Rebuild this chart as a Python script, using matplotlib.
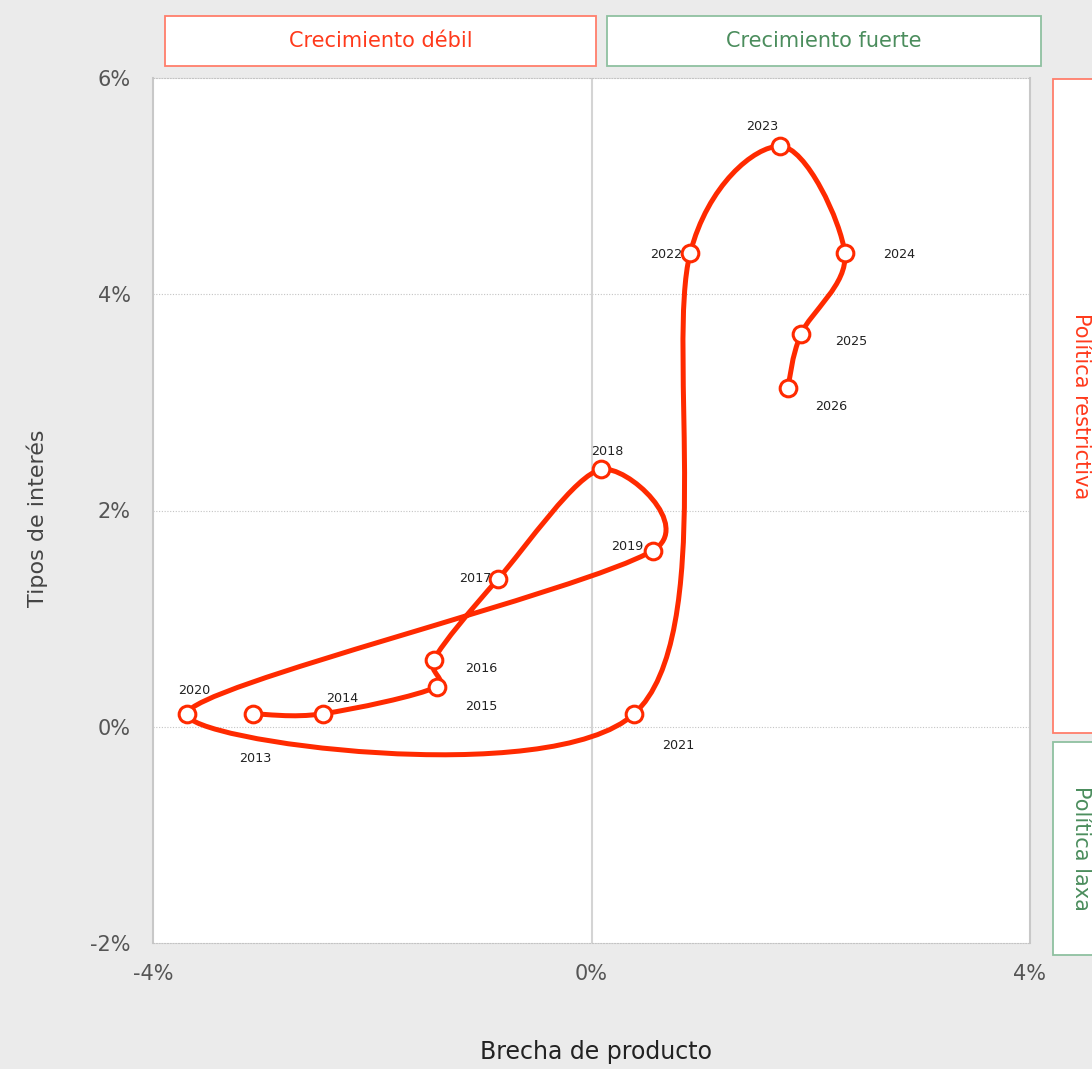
import numpy as np
import matplotlib.pyplot as plt
from matplotlib.path import Path
from matplotlib.patches import PathPatch, Rectangle

# data -------------------------
years = [2013, 2014, 2015, 2016, 2017, 2018, 2019, 2020, 2021, 2022, 2023, 2024, 2025, 2026]
brecha = [-3.09, -2.45, -1.41, -1.44, -0.85, 0.09, 0.56, -3.69, 0.39, 0.90, 1.72, 2.31, 1.91, 1.79]  # [%]
tipos = [0.12, 0.12, 0.37, 0.62, 1.37, 2.38, 1.63, 0.12, 0.12, 4.38, 5.37, 4.38, 3.63, 3.13]      # [%]
xticks = [-4, 0, 4]
yticks = [-2, 0, 2, 4, 6]

# label offsets [pt] and alignment
offs = [(1.5, -32), (14, 11), (32, -14), (34, -6), (-5, 0), (4, 13), (-7, 3),
        (5, 17), (32, -23), (-6, -1), (-13, 14), (39, -1), (36, -5), (31, -13)]
has = ['center', 'center', 'center', 'center', 'right', 'center', 'right',
       'center', 'center', 'right', 'center', 'center', 'center', 'center']

RED = '#ff2a00'
RED_TXT = '#ff3a1c'
RED_BOX = '#ff7e6b'
GREEN_TXT = '#4b8d5d'
GREEN_BOX = '#8fc0a0'
BG = '#ebebeb'

plt.rcParams['font.family'] = ['DejaVu Sans']

fig = plt.figure(figsize=(10.92, 10.69), dpi=100, facecolor=BG)
ax = fig.add_axes([153/1092, 1 - 943/1069, 877/1092, 865/1069])
ax.set_facecolor('white')
ax.set_xlim(-4, 4)
ax.set_ylim(-2, 6)

# smoothed line: catmull-rom tangents, control arms capped at half the segment
P = ax.transData.transform(np.column_stack([brecha, tipos]))
n = len(P)

def arm(t, seg):
    L = np.hypot(*t)
    lim = 0.5 * np.hypot(*seg)
    return t * (lim / L) if L > lim else t

verts = [P[0]]
codes = [Path.MOVETO]
for i in range(n - 1):
    p0 = P[i - 1] if i > 0 else P[i]
    p1 = P[i]
    p2 = P[i + 1]
    p3 = P[i + 2] if i + 2 < n else P[i + 1]
    seg = p2 - p1
    verts += [p1 + arm((p2 - p0) / 6, seg), p2 - arm((p3 - p1) / 6, seg), p2]
    codes += [Path.CURVE4] * 3
verts = ax.transData.inverted().transform(np.array(verts))
ax.add_patch(PathPatch(Path(verts, codes), fill=False, edgecolor=RED, lw=3.6,
                       capstyle='round', joinstyle='round', zorder=3))
ax.plot(brecha, tipos, linestyle='none', marker='o', ms=12, mfc='white',
        mec=RED, mew=2.2, zorder=4)

for yr, x, y, o, ha in zip(years, brecha, tipos, offs, has):
    ax.annotate(str(yr), (x, y), xytext=o, textcoords='offset points',
                ha=ha, va='center', fontsize=9.2, color='#222222', zorder=5)

# grid and frame
for yv in yticks[1:-1]:
    ax.axhline(yv, color='#c4c4c4', lw=0.8, ls=(0, (1, 1.5)), zorder=1)
ax.axvline(0, color='#d4d4d4', lw=1.5, zorder=1)
for side in ['top', 'bottom']:
    ax.spines[side].set_color('#c4c4c4')
    ax.spines[side].set_linestyle((0, (1, 1.5)))
    ax.spines[side].set_linewidth(0.8)
for side in ['left', 'right']:
    ax.spines[side].set_color('#c8c8c8')
    ax.spines[side].set_linewidth(1.5)

ax.set_xticks(xticks)
ax.set_yticks(yticks)
ax.set_xticklabels([f'{v}%' for v in xticks], fontsize=15, color='#555555')
ax.set_yticklabels([f'{v}%' for v in yticks], fontsize=15, color='#555555')
ax.tick_params(length=0)
ax.tick_params(axis='x', pad=15)
ax.tick_params(axis='y', pad=16)

fig.text(37/1092, 1 - 518/1069, 'Tipos de interés', rotation=90, ha='center', va='center',
         fontsize=16, color='#444444')
fig.text(596/1092, 1 - 1052/1069, 'Brecha de producto', ha='center', va='center',
         fontsize=17, color='#222222')

# quadrant boxes
def box(x0, y0, x1, y1, ec, txt, tc, rot=0):
    fig.patches.append(Rectangle((x0/1092, 1 - y1/1069), (x1 - x0)/1092, (y1 - y0)/1069,
                                 transform=fig.transFigure, facecolor='white',
                                 edgecolor=ec, lw=1.3))
    fig.text((x0 + x1)/2/1092, 1 - (y0 + y1)/2/1069, txt, rotation=rot,
             ha='center', va='center', fontsize=15, color=tc)

box(165, 16, 596, 66, RED_BOX, 'Crecimiento débil', RED_TXT)
box(607, 16, 1041, 66, GREEN_BOX, 'Crecimiento fuerte', GREEN_TXT)
box(1053, 79, 1120, 733, RED_BOX, '', RED_TXT)
box(1053, 742, 1120, 955, GREEN_BOX, '', GREEN_TXT)
fig.text(1081/1092, 1 - 406/1069, 'Política restrictiva', rotation=-90,
         ha='center', va='center', fontsize=15, color=RED_TXT)
fig.text(1081/1092, 1 - 848/1069, 'Política laxa', rotation=-90,
         ha='center', va='center', fontsize=15, color=GREEN_TXT)

plt.savefig('out.png', dpi=100, facecolor=BG)
